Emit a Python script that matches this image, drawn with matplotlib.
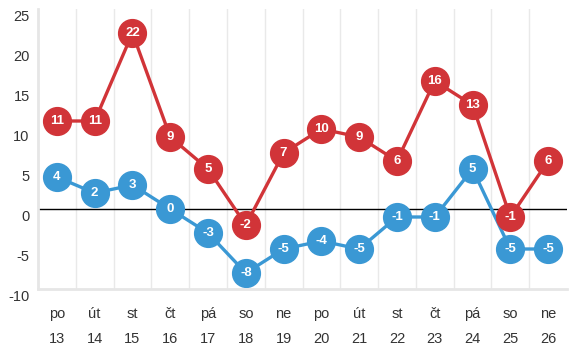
import matplotlib
matplotlib.use("Agg")
import matplotlib.pyplot as plt
from matplotlib.transforms import ScaledTranslation

plt.rcParams['font.family'] = ['Liberation Sans', 'DejaVu Sans']

days = ["po", "út", "st", "čt", "pá", "so", "ne", "po", "út", "st", "čt", "pá", "so", "ne"]
dates = [13, 14, 15, 16, 17, 18, 19, 20, 21, 22, 23, 24, 25, 26]
t_max = [11, 11, 22, 9, 5, -2, 7, 10, 9, 6, 16, 13, -1, 6]
t_min = [4, 2, 3, 0, -3, -8, -5, -4, -5, -1, -1, 5, -5, -5]
y_ticks = [-10, -5, 0, 5, 10, 15, 20, 25]

red = "#d13438"
blue = "#3a98d4"


def draw_series(ax, xs, values, color, z):
    ax.plot(xs, values, color=color, lw=2.4, zorder=z)
    ax.plot(xs, values, "o", ms=20, color=color, mec=color, zorder=z + 0.1)
    for x, v in zip(xs, values):
        ax.text(x, v, str(v), color="white", fontsize=9.5, fontweight="bold",
                ha="center", va="center", zorder=z + 0.2)


def main():
    fig = plt.figure(figsize=(5.7, 3.57), dpi=100)
    ax = fig.add_axes([38 / 570, (357 - 289) / 357, (567 - 38) / 570, 280 / 357])

    xs = list(range(len(days)))
    ax.set_xlim(-0.5, len(days) - 0.5)
    ax.set_ylim(-10, 25)

    for i in range(1, len(days)):
        ax.axvline(i - 0.5, color="#e9e9e9", lw=1, zorder=0)
    ax.axhline(0, color="black", lw=1, zorder=1)

    draw_series(ax, xs, t_min, blue, 2)
    draw_series(ax, xs, t_max, red, 3)

    ax.set_xticks(xs)
    ax.set_xticklabels([f"{d}\n{n}" for d, n in zip(days, dates)],
                       fontsize=10.5, color="#333333", linespacing=1.95)
    ax.set_yticks(y_ticks)
    ax.set_yticklabels([str(t) for t in y_ticks], fontsize=10.5, color="#333333")
    ax.tick_params(axis="both", length=0)
    ax.tick_params(axis="x", pad=13)
    ax.tick_params(axis="y", pad=6)
    shift = ScaledTranslation(0, -5 / 72, fig.dpi_scale_trans)
    for lab in ax.get_yticklabels():
        lab.set_transform(lab.get_transform() + shift)

    for side in ["top", "right"]:
        ax.spines[side].set_visible(False)
    for side in ["left", "bottom"]:
        ax.spines[side].set_color("#e6e6e6")
        ax.spines[side].set_linewidth(2)

    fig.savefig("out.png", dpi=100)


if __name__ == "__main__":
    main()
